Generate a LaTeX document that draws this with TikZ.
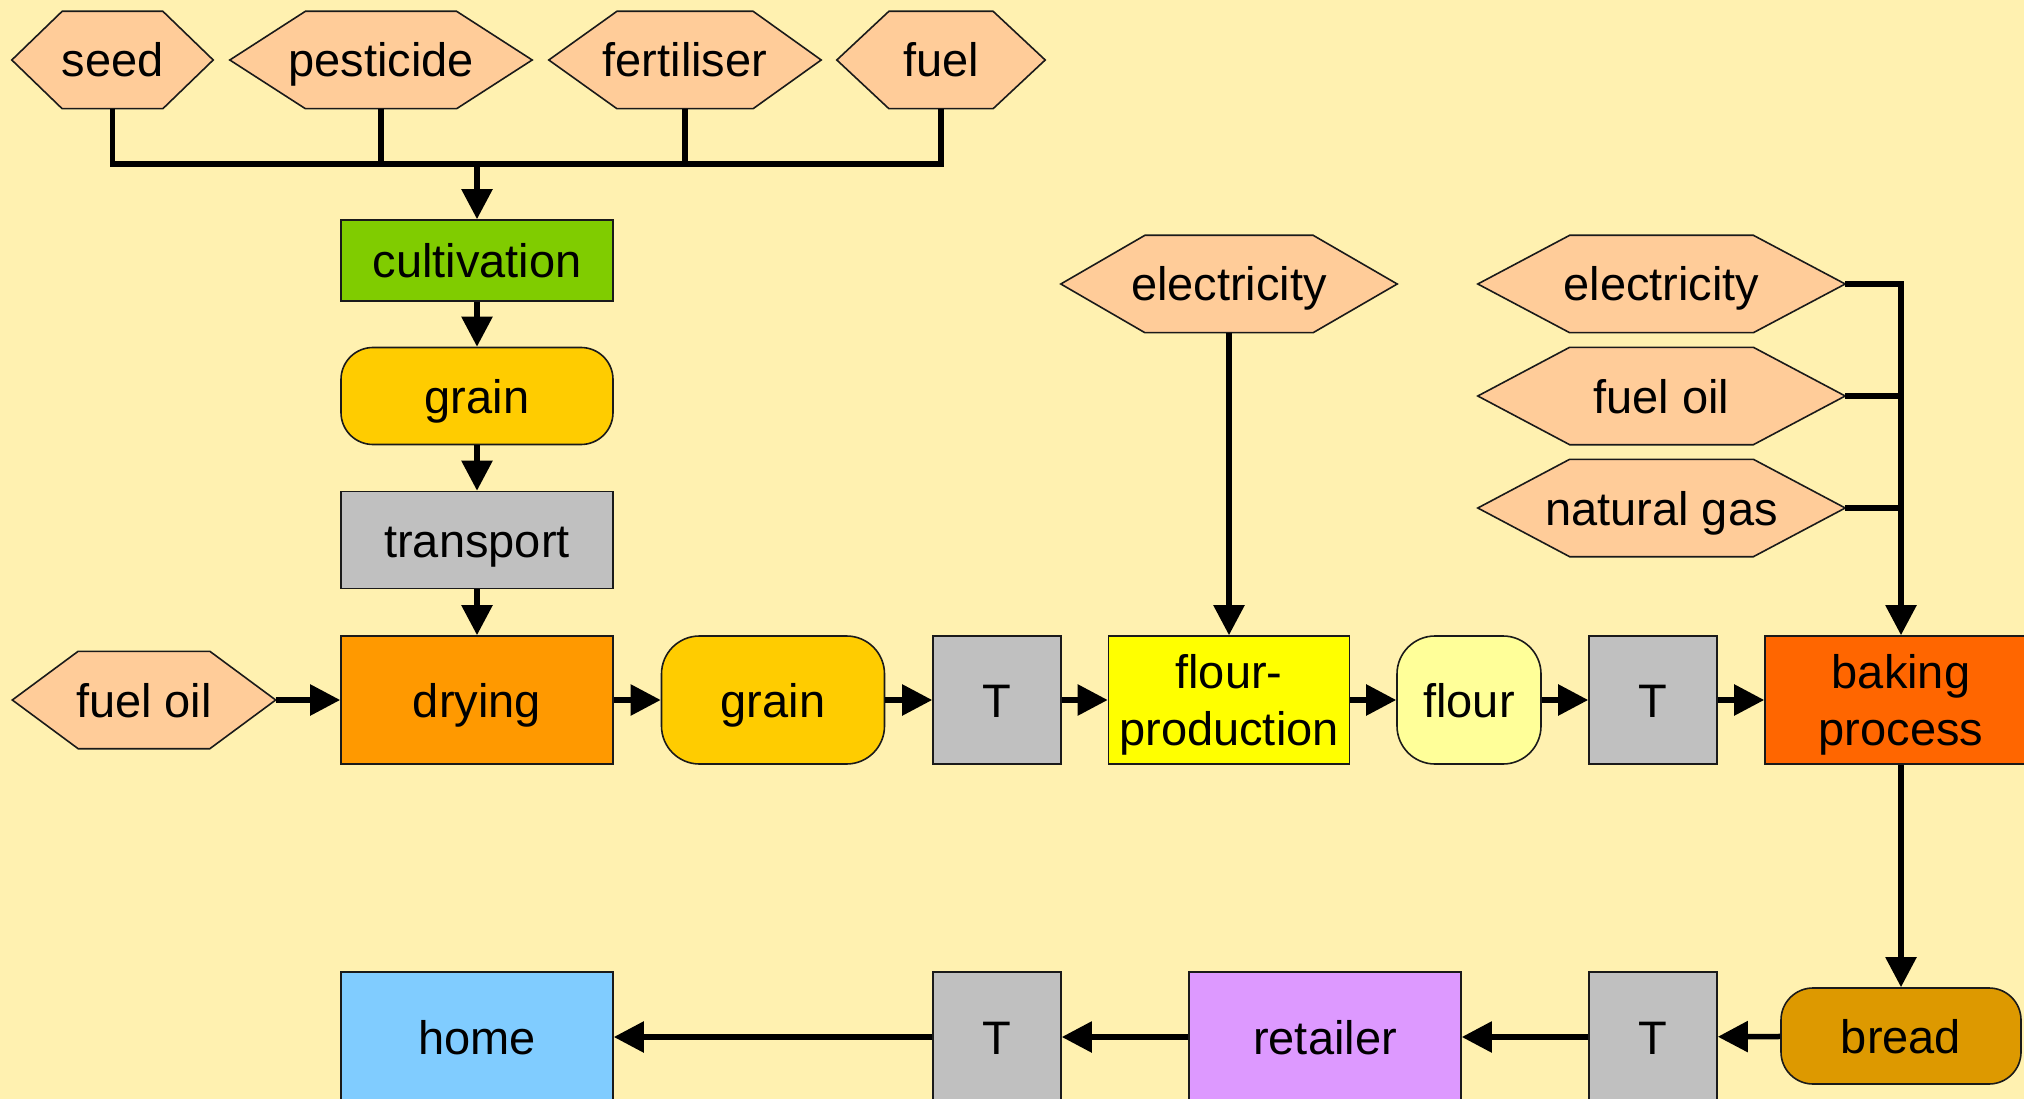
\documentclass[tikz,border=0pt]{standalone}
\usepackage{fontspec}
\setmainfont{Liberation Sans}
\usepackage{tikz}
\usetikzlibrary{positioning,arrows.meta,calc,backgrounds}
\definecolor{palBg}{HTML}{FFF1B0}
\definecolor{palHex}{HTML}{FFCC99}
\definecolor{palGreen}{HTML}{80CC00}
\definecolor{palGrain}{HTML}{FFCC00}
\definecolor{palGray}{HTML}{C0C0C0}
\definecolor{palDry}{HTML}{FF9900}
\definecolor{palMill}{HTML}{FFFF00}
\definecolor{palFlour}{HTML}{FFFF99}
\definecolor{palBake}{HTML}{FF6600}
\definecolor{palBread}{HTML}{DD9900}
\definecolor{palShop}{HTML}{DD99FF}
\definecolor{palHome}{HTML}{80CCFF}
\definecolor{palLine}{HTML}{1A1A1A}
\tikzset{
  stepnode/.style={draw=palLine, line width=1.6pt, font=\fontsize{47}{57}\selectfont,
                   inner sep=0pt, align=center, minimum height=128pt,
                   text height=34pt, text depth=0pt},
  roundnode/.style={stepnode, rounded corners=38pt},
  twoline/.style={text height={}},
  hexnode/.style={font=\fontsize{47}{57}\selectfont, inner sep=0pt,
                  minimum height=97pt, text height=34pt, text depth=0pt},
  hexshape/.style={fill=palHex, draw=palLine, line width=1.6pt},
  flowarrow/.style={-{Triangle[length=30pt,width=30pt]}, line width=5.5pt},
  feedline/.style={line width=5.5pt},
}

\begin{document}
\begin{tikzpicture}[x=1pt, y=-1pt]
\useasboundingbox (0,0) rectangle (2024,1099);
%% Nodes
\node[hexnode, minimum width=201pt] (seed) at (112.5,60) {seed};
\node[hexnode, minimum width=302pt] (pest) at (381,60)   {pesticide};
\node[hexnode, minimum width=272pt] (fert) at (685,60)   {fertiliser};
\node[hexnode, minimum width=208pt] (fuel) at (941,60)   {fuel};
\node[stepnode, fill=palGreen, minimum width=272pt, minimum height=81pt] (cult) at (477,260.5) {cultivation};
\node[roundnode, fill=palGrain, minimum width=272pt, minimum height=97pt, rounded corners=32pt] (grainA) at (477,396) {grain};
\node[stepnode, fill=palGray, minimum width=272pt, minimum height=97pt] (trans) at (477,540) {transport};
\node[stepnode, fill=palDry, minimum width=272pt] (dry) at (477,700) {drying};
\node[hexnode, minimum width=263pt] (oilL) at (144,700) {fuel oil};
\node[roundnode, fill=palGrain, minimum width=223pt] (grainB) at (773,700) {grain};
\node[stepnode, fill=palGray, minimum width=128pt] (tA) at (997,700) {T};
\node[stepnode, twoline, fill=palMill, minimum width=241pt] (mill) at (1229,700) {flour-\\production};
\node[hexnode, minimum width=336pt] (elecM) at (1229,284) {electricity};
\node[roundnode, fill=palFlour, minimum width=144pt] (flour) at (1469,700) {flour};
\node[stepnode, fill=palGray, minimum width=128pt] (tB) at (1653,700) {T};
\node[stepnode, twoline, fill=palBake, minimum width=272pt] (bake) at (1901,700) {baking\\process};
\node[hexnode, minimum width=367pt] (elecR) at (1661.5,284) {electricity};
\node[hexnode, minimum width=367pt] (oilR)  at (1661.5,396) {fuel oil};
\node[hexnode, minimum width=367pt] (gasR)  at (1661.5,508) {natural gas};
\node[roundnode, fill=palBread, minimum width=240pt, minimum height=96pt, rounded corners=32pt] (bread) at (1901,1036) {bread};
\node[stepnode, fill=palGray, minimum width=128pt, minimum height=130pt] (tC) at (1653,1037) {T};
\node[stepnode, fill=palShop, minimum width=272pt, minimum height=130pt] (shop) at (1325,1037) {retailer};
\node[stepnode, fill=palGray, minimum width=128pt, minimum height=130pt] (tD) at (997,1037) {T};
\node[stepnode, fill=palHome, minimum width=272pt, minimum height=130pt] (home) at (477,1037) {home};
\coordinate (bus) at (477,164);
%% Hexagons and background
\begin{scope}[on background layer]
  \fill[palBg] (0,0) rectangle (2024,1099);
  \foreach \h in {seed,pest,fert,fuel,oilL,elecM,elecR,oilR,gasR}
    \filldraw[hexshape] (\h.west) -- ($(\h.north west)!.25!(\h.north east)$)
      -- ($(\h.north west)!.75!(\h.north east)$) -- (\h.east)
      -- ($(\h.south west)!.75!(\h.south east)$)
      -- ($(\h.south west)!.25!(\h.south east)$) -- cycle;
\end{scope}
%% Edges
\draw[feedline] (seed.south) |- (bus) -| (fuel.south);
\draw[feedline] (pest.south) -- (pest.south |- bus);
\draw[feedline] (fert.south) -- (fert.south |- bus);
\draw[flowarrow] (bus) -- (cult.north);
\draw[flowarrow] (cult) -- (grainA);
\draw[flowarrow] (grainA) -- (trans);
\draw[flowarrow] (trans) -- (dry);
\draw[flowarrow] (oilL) -- (dry);
\draw[flowarrow] (dry) -- (grainB);
\draw[flowarrow] (grainB) -- (tA);
\draw[flowarrow] (tA) -- (mill);
\draw[flowarrow] (elecM) -- (mill);
\draw[flowarrow] (mill) -- (flour);
\draw[flowarrow] (flour) -- (tB);
\draw[flowarrow] (tB) -- (bake);
\draw[flowarrow] (elecR.east) -| (bake.north);
\draw[feedline] (oilR.east) -- (oilR.east -| bake.north);
\draw[feedline] (gasR.east) -- (gasR.east -| bake.north);
\draw[flowarrow] (bake) -- (bread);
\draw[flowarrow] (bread) -- (tC);
\draw[flowarrow] (tC) -- (shop);
\draw[flowarrow] (shop) -- (tD);
\draw[flowarrow] (tD) -- (home);
\end{tikzpicture}
\end{document}
